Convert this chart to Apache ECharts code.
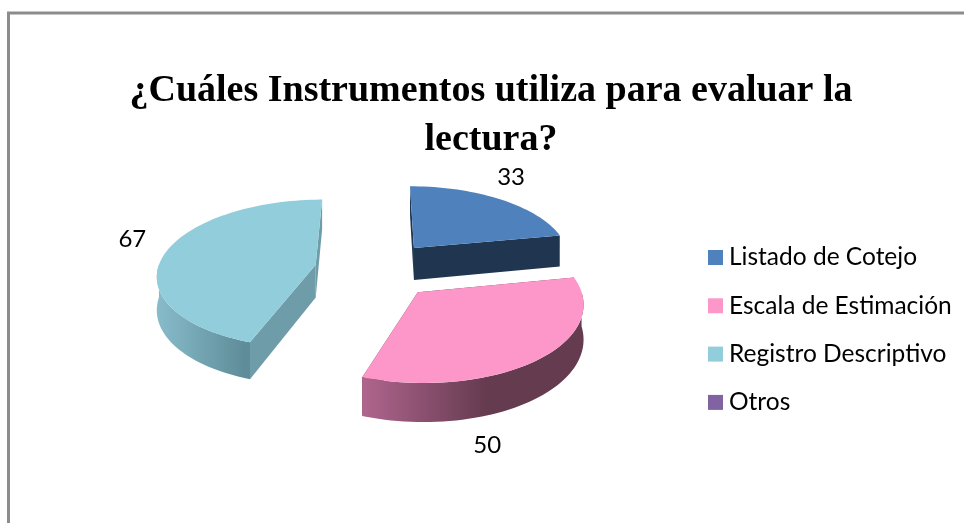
<!DOCTYPE html>
<html lang="es">
<head>
    <meta charset="UTF-8">
    <title>Instrumentos</title>
    <script src="https://cdn.jsdelivr.net/npm/echarts@6/dist/echarts.min.js"></script>
    <style>
        *{
            margin: 0;
            padding: 0;
        }
        body{
            background-color: #fff;
            overflow: hidden;
        }
    </style>
</head>
<body>
<div id="main" style="width:964px;height:523px;"></div>

<script>
    // datos
    var chartTitle = '¿Cuáles Instrumentos utiliza para evaluar la\nlectura?';
    var categories = ['Listado de Cotejo', 'Escala de Estimación', 'Registro Descriptivo', 'Otros'];
    var values = [33, 50, 67, 0];

    // estilo
    var topColors = ['#4f81bd', '#fd97c9', '#92cddc', '#8064a2'];
    var edgeColors = ['#1f3550', '#653b50', '#6f9ca9', '#4d3c61'];
    var arcStops = [
        ['#2f4d71', '#1f3550', '#1f3550'],
        ['#b0658d', '#653b50', '#653b50'],
        ['#88bccb', '#5f8c99', '#5f8c99'],
        ['#8064a2', '#4d3c61', '#4d3c61']
    ];
    var arcMid = [0.56, 0.56, 0.95, 0.56];
    var labelNudge = [[11, -22], [-53, 87], [-33, -14], [0, 0]];

    // perspectiva del pastel
    var centerX = 376, centerY = 269.5;
    var radiusX = 158, radiusY = 74, depth = 33;
    var persp = 0.12, explode = 0.39, startAngle = 0;

    var total = values.reduce(function (a, b) { return a + b; }, 0);

    function toRad(d) {
        return d * Math.PI / 180;
    }

    // punto del plano del pastel a pantalla, h es la caida de la pared
    function project(x, y, h) {
        var s = 1 / (1 + persp * y);
        return [centerX + radiusX * x * s, centerY - radiusY * y * s + h * s];
    }

    function sliceRange(idx) {
        var sum = 0;
        for (var i = 0; i < idx; i++) {
            sum += values[i];
        }
        return [startAngle + sum / total * 360, startAngle + (sum + values[idx]) / total * 360];
    }

    function renderSlice(params, api) {
        var idx = params.seriesIndex;
        var value = api.value(0);
        if (!value) {
            return {type: 'group', children: []};
        }
        var range = sliceRange(idx);
        var mid = toRad((range[0] + range[1]) / 2);
        var ox = explode * Math.sin(mid), oy = explode * Math.cos(mid);

        function rim(deg, h) {
            var a = toRad(deg);
            return project(ox + Math.sin(a), oy + Math.cos(a), h);
        }

        var apex = project(ox, oy, 0), apexLow = project(ox, oy, depth);
        var face = [apex], d;
        for (d = range[0]; d < range[1]; d += 2) {
            face.push(rim(d, 0));
        }
        face.push(rim(range[1], 0));

        var children = [];
        // paredes radiales
        [range[0], range[1]].forEach(function (deg) {
            children.push({
                type: 'polygon',
                shape: {points: [apex, rim(deg, 0), rim(deg, depth), apexLow]},
                style: {fill: edgeColors[idx]}
            });
        });
        // pared curva, solo la parte que mira al frente
        var from = Math.max(range[0], 90), to = Math.min(range[1], 270);
        if (from < to) {
            var upper = [], lower = [];
            for (d = from; d < to; d += 2) {
                upper.push(rim(d, 0));
                lower.unshift(rim(d, depth));
            }
            upper.push(rim(to, 0));
            lower.unshift(rim(to, depth));
            var stops = arcStops[idx];
            children.push({
                type: 'polygon',
                shape: {points: upper.concat(lower)},
                style: {
                    fill: new echarts.graphic.LinearGradient(0, 0, 1, 0, [
                        {offset: 0, color: stops[0]},
                        {offset: arcMid[idx], color: stops[1]},
                        {offset: 1, color: stops[2]}
                    ])
                }
            });
        }
        // cara superior
        children.push({
            type: 'polygon',
            shape: {points: face},
            style: {fill: topColors[idx]}
        });
        // etiqueta
        var anchor = project(ox + Math.sin(mid), oy + Math.cos(mid), 0);
        children.push({
            type: 'text',
            style: {
                x: anchor[0] + labelNudge[idx][0],
                y: anchor[1] + labelNudge[idx][1],
                text: String(value),
                fill: '#000',
                font: '24px Lato',
                align: 'center',
                verticalAlign: 'middle'
            }
        });
        return {type: 'group', children: children};
    }

    var seriesList = categories.map(function (name, i) {
        return {
            name: name,
            type: 'custom',
            coordinateSystem: 'none',
            renderItem: renderSlice,
            itemStyle: {color: topColors[i]},
            data: [[values[i]]]
        };
    });

    var myChart = echarts.init(document.getElementById('main'));
    var option = {
        animation: false,
        backgroundColor: '#fff',
        title: {
            text: chartTitle,
            left: 486,
            top: 62,
            textAlign: 'center',
            textStyle: {
                color: '#000',
                fontSize: 38,
                fontWeight: 'bold',
                fontFamily: 'Liberation Serif',
                lineHeight: 49
            }
        },
        legend: {
            orient: 'vertical',
            left: 703,
            top: 240,
            icon: 'rect',
            itemWidth: 15,
            itemHeight: 15,
            itemGap: 23.3,
            data: categories,
            selectedMode: false,
            textStyle: {
                color: '#000',
                fontSize: 24.5,
                fontFamily: 'Lato',
                padding: [0, 0, 0, 1]
            }
        },
        graphic: [{
            type: 'polyline',
            silent: true,
            shape: {points: [[8.5, 523], [8.5, 13], [964, 13]]},
            style: {stroke: '#8c8c8c', lineWidth: 3, fill: null}
        }],
        series: seriesList
    };
    myChart.setOption(option);
</script>
</body>
</html>
